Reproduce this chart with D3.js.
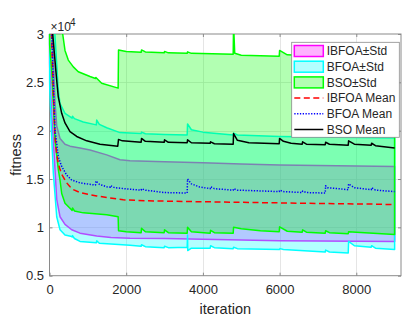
<!DOCTYPE html>
<html><head><meta charset="utf-8">
<script src="https://cdn.jsdelivr.net/npm/d3@7"></script>
<style>
body{margin:0;background:#fff}
svg{display:block}
text{font-family:"Liberation Sans",Arial,Helvetica,sans-serif;fill:#262626}
</style>
</head><body>
<svg id="chart" width="416" height="325"></svg>
<script>
// ---------- data (fitness in units of 10^4) ----------
const iterTicks = [0, 2000, 4000, 6000, 8000];
const fitnessTicks = [0.5, 1, 1.5, 2, 2.5, 3];
const bandLabels = ["IBFOA\u00b1Std", "BFOA\u00b1Std", "BSO\u00b1Std"];
const meanLabels = ["IBFOA Mean", "BFOA Mean", "BSO Mean"];

const ibfoaMean = [[0,3.6],[60,2.9],[100,2.4],[143,1.95],[188,1.76],[229,1.66],[274,1.60],[318,1.55],[404,1.49],[449,1.46],[535,1.42],[621,1.39],[795,1.36],[970,1.345],[1230,1.325],[1492,1.31],[1924,1.285],[2500,1.275],[3500,1.268],[4500,1.262],[5500,1.256],[6500,1.25],[7500,1.245],[8500,1.24],[9000,1.235]];
const ibfoaUpper = [[0,3.8],[90,2.9],[143,2.3],[188,2.05],[274,1.92],[404,1.86],[535,1.84],[795,1.82],[1056,1.80],[1492,1.75],[1838,1.70],[2099,1.69],[3000,1.678],[4000,1.667],[5000,1.656],[6000,1.646],[7000,1.64],[8000,1.635],[9000,1.63]];
const ibfoaLower = [[0,2.7],[50,2.2],[100,1.9],[188,1.29],[274,1.11],[404,1.03],[579,0.975],[795,0.94],[1231,0.91],[1600,0.895],[2099,0.888],[3000,0.884],[4000,0.878],[5000,0.868],[6000,0.862],[7000,0.858],[8000,0.856],[9000,0.854]];

const bfoaMean = [[0,3.6],[60,3.0],[100,2.5],[143,2.0],[188,1.87],[229,1.73],[318,1.63],[449,1.54],[579,1.49],[795,1.46],[1142,1.44],[1200,1.438],[1210,1.48],[1300,1.445],[1492,1.42],[1590,1.415],[1600,1.43],[1700,1.41],[2099,1.395],[2390,1.385],[2400,1.40],[2500,1.385],[3000,1.36],[3590,1.355],[3600,1.50],[3700,1.45],[3900,1.42],[4190,1.40],[4200,1.42],[4300,1.40],[4790,1.385],[4800,1.40],[4900,1.385],[5990,1.37],[6000,1.385],[6100,1.37],[6590,1.36],[6600,1.375],[6700,1.36],[7190,1.355],[7200,1.43],[7250,1.41],[7790,1.39],[7800,1.45],[7950,1.41],[8390,1.39],[8400,1.41],[8500,1.385],[9000,1.37]];
const bfoaUpper = [[0,3.9],[140,3.0],[229,2.42],[274,2.28],[404,2.18],[590,2.13],[600,2.15],[650,2.125],[881,2.09],[1220,2.06],[1231,2.11],[1300,2.065],[1492,2.03],[1838,1.98],[2099,1.975],[2390,1.97],[2400,1.985],[2500,1.968],[3000,1.96],[3590,1.955],[3600,2.07],[3700,2.01],[4000,1.985],[4500,1.965],[4790,1.955],[4800,1.975],[4900,1.955],[6000,1.94],[7000,1.935],[9000,1.925]];
const bfoaLower = [[0,2.5],[50,2.0],[100,1.56],[188,1.11],[274,0.975],[404,0.92],[579,0.905],[590,0.9],[600,0.915],[650,0.885],[795,0.855],[1220,0.84],[1231,0.86],[1300,0.835],[2099,0.815],[2390,0.805],[2400,0.82],[2500,0.80],[2990,0.79],[3000,0.805],[3100,0.79],[3590,0.795],[3600,0.92],[3605,0.76],[3700,0.785],[4190,0.785],[4200,0.81],[4300,0.79],[4790,0.78],[4800,0.795],[4900,0.78],[6000,0.77],[6010,0.78],[6100,0.77],[7190,0.745],[7200,0.765],[7300,0.745],[7790,0.735],[7800,0.855],[7950,0.81],[8390,0.795],[8400,0.81],[8500,0.785],[9000,0.77]];

const bsoMean = [[0,3.6],[83,3.0],[188,2.52],[229,2.35],[318,2.18],[404,2.08],[535,1.99],[709,1.94],[970,1.895],[1317,1.86],[1780,1.84],[1800,1.91],[1900,1.895],[2390,1.88],[2400,1.92],[2500,1.89],[2990,1.88],[3000,1.905],[3100,1.88],[3590,1.875],[3600,1.905],[3700,1.875],[4190,1.87],[4200,1.885],[4300,1.865],[4790,1.86],[4800,1.97],[4900,1.90],[5200,1.875],[5990,1.865],[6000,1.92],[6100,1.89],[6300,1.87],[6590,1.86],[6600,1.885],[6700,1.86],[7190,1.855],[7200,1.88],[7300,1.86],[7790,1.85],[7800,1.895],[7950,1.86],[8390,1.85],[8400,1.87],[8500,1.845],[9000,1.82]];
const bsoUpper = [[0,3.8],[344,3.0],[404,2.83],[490,2.73],[621,2.66],[751,2.61],[1056,2.56],[1200,2.54],[1210,2.55],[1361,2.49],[1790,2.44],[1800,2.835],[2000,2.82],[2390,2.81],[2400,2.835],[2500,2.815],[2990,2.805],[3000,2.82],[3100,2.805],[3590,2.80],[3600,2.815],[3700,2.80],[4790,2.79],[4800,3.1],[4830,2.80],[5000,2.78],[5990,2.77],[6000,2.83],[6200,2.785],[7000,2.77],[9000,2.75]];
const bsoLower = [[0,2.9],[60,2.6],[143,1.90],[229,1.60],[274,1.49],[318,1.35],[404,1.25],[579,1.18],[590,1.175],[600,1.2],[650,1.17],[881,1.15],[1492,1.13],[1790,1.11],[1800,0.965],[2000,0.955],[2390,0.945],[2400,0.99],[2500,0.955],[2990,0.945],[3000,0.975],[3100,0.945],[3590,0.94],[3600,1.0],[3700,0.955],[4190,0.94],[4200,0.97],[4300,0.945],[4790,0.94],[4800,1.0],[5000,0.985],[5500,0.965],[5990,0.955],[6000,1.005],[6200,0.96],[6590,0.95],[6600,0.975],[6700,0.95],[7190,0.94],[7200,0.965],[7300,0.945],[7790,0.935],[7800,0.955],[8000,0.95],[9000,0.925]];

// ---------- layout ----------
const svg = d3.select("#chart");
const L = 49.5, R = 401, T = 34, B = 275.7;
const x = d3.scaleLinear().domain([0, 9166]).range([L, R]);
const y = d3.scaleLinear().domain([0.5, 3]).range([B, T]);

const bands = [
  {up: ibfoaUpper, lo: ibfoaLower, color: "#ff00ff"},
  {up: bfoaUpper, lo: bfoaLower, color: "#00ffff"},
  {up: bsoUpper, lo: bsoLower, color: "#00ff00"}
];
const means = [
  {data: ibfoaMean, color: "#ff0000", dash: "6,3.5"},
  {data: bfoaMean, color: "#0000ff", dash: "1.3,1.5"},
  {data: bsoMean, color: "#000000", dash: null}
];

svg.append("defs").append("clipPath").attr("id", "clip")
  .append("rect").attr("x", L - 1).attr("y", T).attr("width", R - L + 1).attr("height", B - T);

// grid
const grid = svg.append("g").attr("stroke", "#dedede").attr("stroke-width", 0.8);
grid.selectAll(".gx").data(iterTicks.slice(1)).join("line")
  .attr("x1", d => Math.round(x(d)) + 0.5).attr("x2", d => Math.round(x(d)) + 0.5)
  .attr("y1", T).attr("y2", B);
grid.selectAll(".gy").data(fitnessTicks.slice(1, -1)).join("line")
  .attr("y1", d => Math.round(y(d)) + 0.5).attr("y2", d => Math.round(y(d)) + 0.5)
  .attr("x1", L).attr("x2", R);

// axes box (under data)
const axisColor = "#8a8a8a";
svg.append("rect").attr("x", L).attr("y", T).attr("width", R - L).attr("height", B - T)
  .attr("fill", "none").attr("stroke", axisColor).attr("stroke-width", 1);

function styleAxis(g) {
  g.select(".domain").remove();
  g.selectAll(".tick line").attr("stroke", axisColor);
  g.selectAll(".tick text").attr("font-size", 13).attr("fill", "#262626")
    .style("font-family", '"Liberation Sans",Arial,Helvetica,sans-serif');
}
svg.append("g").attr("transform", `translate(0,${B})`)
  .call(d3.axisBottom(x).tickValues(iterTicks).tickSizeInner(-3).tickSizeOuter(0).tickPadding(9).tickFormat(d3.format("d")))
  .call(styleAxis);
svg.append("g").attr("transform", `translate(0,${T})`)
  .call(d3.axisTop(x).tickValues(iterTicks).tickSizeInner(-3).tickSizeOuter(0).tickFormat(""))
  .call(styleAxis);
svg.append("g").attr("transform", `translate(${L},0)`)
  .call(d3.axisLeft(y).tickValues(fitnessTicks).tickSizeInner(-3).tickSizeOuter(0).tickPadding(5.5).tickFormat(d => d3.format("~g")(d)))
  .call(styleAxis);
svg.append("g").attr("transform", `translate(${R},0)`)
  .call(d3.axisRight(y).tickValues(fitnessTicks).tickSizeInner(-3).tickSizeOuter(0).tickFormat(""))
  .call(styleAxis);

// data
const line = d3.line().x(d => x(d[0])).y(d => y(d[1]));
const plot = svg.append("g").attr("clip-path", "url(#clip)");
bands.forEach(b => {
  const pts = b.up.concat(b.lo.slice().reverse());
  plot.append("path").attr("d", line(pts) + "Z")
    .attr("fill", b.color).attr("fill-opacity", 0.3)
    .attr("stroke", b.color).attr("stroke-width", 1.5).attr("stroke-linejoin", "round");
});
means.forEach(m => {
  plot.append("path").attr("d", line(m.data))
    .attr("fill", "none").attr("stroke", m.color).attr("stroke-width", 1.5)
    .attr("stroke-dasharray", m.dash).attr("stroke-linejoin", "round");
});

// axis labels
svg.append("text").attr("x", (L + R) / 2).attr("y", 314).attr("text-anchor", "middle")
  .attr("font-size", 14.5).text("iteration");
svg.append("text").attr("transform", `translate(20.5,${(T + B) / 2}) rotate(-90)`)
  .attr("text-anchor", "middle").attr("font-size", 14.5).text("fitness");
// exponent label: "×10" and superscript "4" as separate text elements
svg.append("text").attr("x", 50.5).attr("y", 31).attr("font-size", 12).text("\u00d710");
svg.append("text").attr("x", 70).attr("y", 26).attr("font-size", 10).text("4");

// legend
const lg = svg.append("g");
lg.append("rect").attr("x", 291.7).attr("y", 42.3).attr("width", 107.6).attr("height", 95)
  .attr("fill", "#fff").attr("stroke", "#8a8a8a").attr("stroke-width", 0.8);
const rowY = i => 51 + i * 15.7;
bands.forEach((b, i) => {
  lg.append("rect").attr("x", 294.3).attr("y", rowY(i) - 5.5).attr("width", 29).attr("height", 11)
    .attr("fill", b.color).attr("fill-opacity", 0.3).attr("stroke", b.color).attr("stroke-width", 1.5);
  lg.append("text").attr("x", 326.7).attr("y", rowY(i)).attr("dy", "0.35em").attr("font-size", 12).text(bandLabels[i]);
});
means.forEach((m, i) => {
  const yy = rowY(i + 3);
  lg.append("line").attr("x1", 294.3).attr("x2", 323.3).attr("y1", yy).attr("y2", yy)
    .attr("stroke", m.color).attr("stroke-width", 1.5).attr("stroke-dasharray", m.dash);
  lg.append("text").attr("x", 326.7).attr("y", yy).attr("dy", "0.35em").attr("font-size", 12).text(meanLabels[i]);
});
</script>
</body></html>
